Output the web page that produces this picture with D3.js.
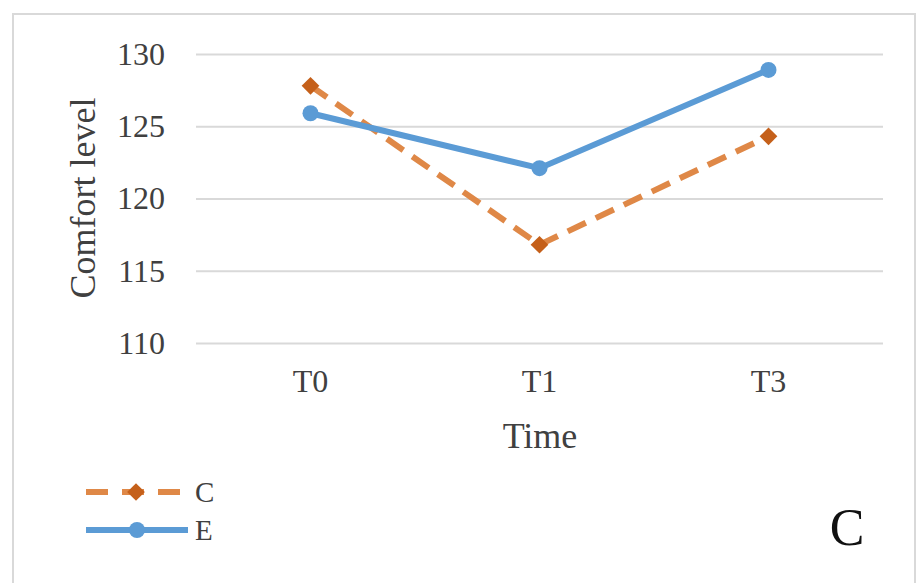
<!DOCTYPE html>
<html><head><meta charset="utf-8">
<script src="https://cdn.jsdelivr.net/npm/d3@7"></script>
<style>
html,body{margin:0;padding:0;background:#fff;}
svg text{font-family:"Times New Roman","Liberation Serif",Times,"DejaVu Serif",serif !important;}
</style></head>
<body>
<svg id="chart" width="919" height="583"></svg>
<script>
const categories = ["T0", "T1", "T3"];
const seriesNames = ["C", "E"];
const valuesC = [127.8, 116.8, 124.3];
const valuesE = [125.9, 122.1, 128.9];
const yTicks = [110, 115, 120, 125, 130];

const svg = d3.select("#chart");
// outer border
svg.append("rect").attr("x", 13).attr("y", 14).attr("width", 902).attr("height", 580)
  .attr("fill", "#fff").attr("stroke", "#d9d9d9").attr("stroke-width", 2);

const x = d3.scaleBand().domain(categories).range([196, 883]).padding(0);
const y = d3.scaleLinear().domain([110, 130]).range([343, 54]);

// gridlines
const yAxis = d3.axisLeft(y).tickValues(yTicks).tickSize(-(883 - 196)).tickPadding(31);
const gy = svg.append("g").attr("transform", "translate(196,0)").call(yAxis);
gy.attr("font-family", null);
gy.select(".domain").remove();
gy.selectAll(".tick line").attr("stroke", "#d9d9d9").attr("stroke-width", 2);
gy.selectAll(".tick text").attr("font-size", 32).attr("fill", "#404040");

const xAxis = d3.axisBottom(x).tickSize(0).tickPadding(26);
const gx = svg.append("g").attr("transform", "translate(0,343)").call(xAxis);
gx.attr("font-family", null);
gx.select(".domain").remove();
gx.selectAll(".tick text").attr("font-size", 32).attr("fill", "#404040");

// axis titles
svg.append("text").attr("x", 540).attr("y", 448).attr("text-anchor", "middle")
  .attr("font-size", 36).attr("fill", "#404040").text("Time");
svg.append("text").attr("transform", "translate(95,198) rotate(-90)").attr("text-anchor", "middle")
  .attr("font-size", 36).attr("fill", "#404040").text("Comfort level");

const cx = d => x(d) + x.bandwidth() / 2;
const line = d3.line().x((d, i) => cx(categories[i])).y(d => y(d));

const diamond = d3.symbol().type(d3.symbolDiamond2).size(200);

// series C
svg.append("path").datum(valuesC).attr("d", line).attr("fill", "none")
  .attr("stroke", "#df8847").attr("stroke-width", 6).attr("stroke-dasharray", "20,11");
svg.selectAll(".mc").data(valuesC).enter().append("path")
  .attr("d", diamond).attr("transform", (d, i) => `translate(${cx(categories[i])},${y(d)})`)
  .attr("fill", "#c5601a");

// series E
svg.append("path").datum(valuesE).attr("d", line).attr("fill", "none")
  .attr("stroke", "#5b9bd5").attr("stroke-width", 6);
svg.selectAll(".me").data(valuesE).enter().append("circle")
  .attr("cx", (d, i) => cx(categories[i])).attr("cy", d => y(d)).attr("r", 8)
  .attr("fill", "#5b9bd5");

// legend
const leg = svg.append("g");
const legY = [492, 530];
leg.append("line").attr("x1", 86).attr("x2", 187).attr("y1", legY[0]).attr("y2", legY[0])
  .attr("stroke", "#df8847").attr("stroke-width", 6).attr("stroke-dasharray", "22,14");
leg.append("path").attr("d", diamond).attr("transform", `translate(136,${legY[0]})`).attr("fill", "#c5601a");
leg.append("line").attr("x1", 86).attr("x2", 188).attr("y1", legY[1]).attr("y2", legY[1])
  .attr("stroke", "#5b9bd5").attr("stroke-width", 6);
leg.append("circle").attr("cx", 137).attr("cy", legY[1]).attr("r", 8).attr("fill", "#5b9bd5");
leg.selectAll(".lt").data(seriesNames).enter().append("text")
  .attr("x", 195).attr("y", (d, i) => legY[i] + 10)
  .attr("font-size", 29).attr("fill", "#404040").text(d => d);

// panel label
svg.append("text").attr("x", 847).attr("y", 545).attr("text-anchor", "middle")
  .attr("font-size", 52).attr("fill", "#111").text("C");
</script>
</body></html>
